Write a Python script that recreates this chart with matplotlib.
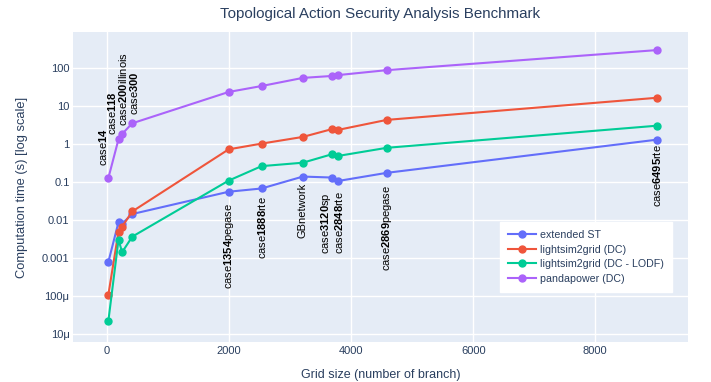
import matplotlib.pyplot as plt
from matplotlib.ticker import FixedLocator, FixedFormatter, NullLocator

plt.rcParams['font.family'] = ['Liberation Sans', 'DejaVu Sans']
plt.rcParams['mathtext.fontset'] = 'custom'
plt.rcParams['mathtext.rm'] = 'Liberation Sans'
plt.rcParams['mathtext.bf'] = 'Liberation Sans:bold'

# grid sizes (number of branches) per test case
grids = ["case14", "case118", "case200illinois", "case300", "case1354pegase",
         "case1888rte", "GBnetwork", "case3120sp", "case2848rte",
         "case2869pegase", "case6495rte"]
grid_labels = ["case$\\mathbf{14}$", "case$\\mathbf{118}$", "case$\\mathbf{200}$illinois",
               "case$\\mathbf{300}$", "case$\\mathbf{1354}$pegase", "case$\\mathbf{1888}$rte",
               "GBnetwork", "case$\\mathbf{3120}$sp", "case$\\mathbf{2848}$rte",
               "case$\\mathbf{2869}$pegase", "case$\\mathbf{6495}$rte"]
n_branch = [20, 186, 245, 411, 1991, 2531, 3207, 3693, 3776, 4582, 9019]

extended_st = [0.00078, 0.0087, 0.0079, 0.0142, 0.055, 0.067, 0.138, 0.13, 0.105, 0.173, 1.30]
ls_dc = [0.000107, 0.0049, 0.0066, 0.0166, 0.72, 1.02, 1.53, 2.48, 2.33, 4.3, 16.5]
ls_lodf = [0.000022, 0.003, 0.0014, 0.0036, 0.108, 0.26, 0.32, 0.54, 0.48, 0.79, 3.03]
pp_dc = [0.127, 1.33, 1.83, 3.5, 23.4, 33.6, 55, 62, 65, 88, 298]

series = [
    ("extended ST", extended_st, "#636EFA"),
    ("lightsim2grid (DC)", ls_dc, "#EF553B"),
    ("lightsim2grid (DC - LODF)", ls_lodf, "#00CC96"),
    ("pandapower (DC)", pp_dc, "#AB63FA"),
]

ytick_vals = [1e-5, 1e-4, 1e-3, 1e-2, 1e-1, 1, 10, 100]
ytick_labels = ["10μ", "100μ", "0.001", "0.01", "0.1", "1", "10", "100"]
xtick_vals = [0, 2000, 4000, 6000, 8000]

# label nudges in pixels (dx, gap from the point)
lab_dx = [-5, -7, 1, 2, 0, 0, 0, -6, 1, 0, 0]
lab_gap = [12, 4, 8, 8, 11, 8, 6, 15, 10, 12, 5]

txt = "#2a3f5f"
px = 0.72  # points per pixel at 100 dpi
fig = plt.figure(figsize=(7.11, 3.82), dpi=100)
ax = fig.add_axes([73 / 711, 1 - 342 / 382, 615 / 711, 310 / 382])
ax.set_facecolor("#E5ECF6")
for s in ax.spines.values():
    s.set_visible(False)

for name, vals, col in series:
    ax.plot(n_branch, vals, color=col, lw=1.5, marker="o", ms=5, label=name, zorder=3)

ax.set_yscale("log")
ax.set_ylim(10 ** -5.22, 10 ** 2.95)
ax.set_xlim(-560, 9520)
ax.yaxis.set_major_locator(FixedLocator(ytick_vals))
ax.yaxis.set_major_formatter(FixedFormatter(ytick_labels))
ax.yaxis.set_minor_locator(NullLocator())
ax.set_xticks(xtick_vals)
ax.grid(True, color="white", lw=1)
ax.set_axisbelow(True)
ax.tick_params(length=0, labelsize=8, colors=txt)
ax.tick_params(axis="x", pad=3)
ax.tick_params(axis="y", pad=2.5)

# labels: small cases above the pandapower curve, the rest under extended ST
for i, lab in enumerate(grid_labels):
    if i < 4:
        ax.annotate(lab, (n_branch[i], pp_dc[i]), xytext=(lab_dx[i] * px, lab_gap[i] * px),
                    textcoords="offset points", rotation=90, ha="center", va="bottom",
                    fontsize=8, color="black")
    else:
        ax.annotate(lab, (n_branch[i], extended_st[i]), xytext=(lab_dx[i] * px, -lab_gap[i] * px),
                    textcoords="offset points", rotation=90, ha="center", va="top",
                    fontsize=8, color="black")

ax.set_title("Topological Action Security Analysis Benchmark", fontsize=10.9, color=txt, pad=10)
ax.set_xlabel("Grid size (number of branch)", fontsize=9, color=txt, labelpad=9)
ax.set_ylabel("Computation time (s) [log scale]", fontsize=9.3, color=txt, labelpad=10)

leg = ax.legend(loc="upper left", bbox_to_anchor=(0.694, 0.387), borderaxespad=0,
                fontsize=7.7, frameon=True, fancybox=False, handlelength=2.6,
                handletextpad=0.4, labelspacing=0.42, borderpad=0.75)
leg.get_frame().set_facecolor("white")
leg.get_frame().set_edgecolor("white")
leg.get_frame().set_alpha(1)
for t in leg.get_texts():
    t.set_color(txt)

fig.savefig("out.png", dpi=100)
